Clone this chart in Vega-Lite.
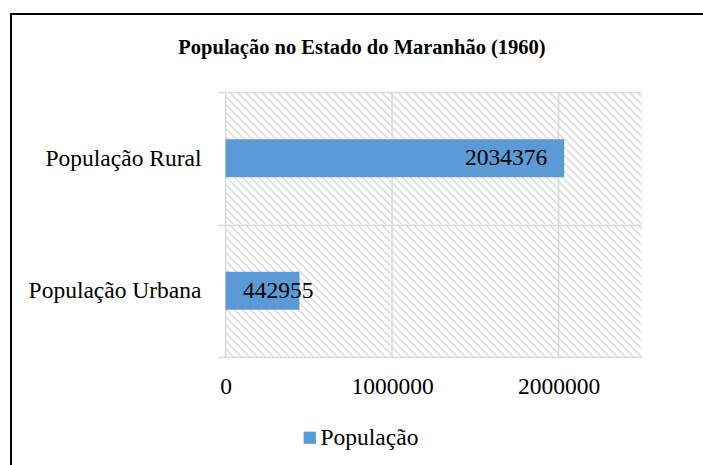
{
"$schema": "https://vega.github.io/schema/vega-lite/v6.json",
"width": 692,
"height": 451,
"autosize": {"type": "none"},
"padding": {"left": 11, "top": 14, "right": 0, "bottom": 0},
"background": "white",
"config": {
  "view": {"stroke": "#000000", "strokeWidth": 2, "strokeDash": [692, 1143, 451, 1000]},
  "font": "Liberation Serif"
},
"title": {"text": "População no Estado do Maranhão (1960)", "font": "Liberation Serif", "fontSize": 20.5, "fontWeight": "bold", "color": "#000000", "anchor": "middle", "frame": "group", "offset": -56, "dx": 5},
"data": {"values": [
  {"cat": "População Rural", "value": 2034376},
  {"cat": "População Urbana", "value": 442955}
]},
"encoding": {
  "y": {"field": "cat", "type": "nominal",
    "scale": {"domain": ["População Rural", "População Urbana"], "range": [78, 343], "paddingInner": 0, "paddingOuter": 0},
    "axis": {"title": null, "orient": "left", "offset": -214.7, "domain": false, "ticks": true, "tickSize": 8, "tickColor": "#d9d9d9", "tickWidth": 1.5, "tickBand": "extent", "grid": true, "gridColor": "#d9d9d9", "gridWidth": 1.5, "zindex": 1, "labelFont": "Liberation Serif", "labelFontSize": 23.5, "labelColor": "#000000", "labelPadding": 16.7, "labelLimit": 300}
  }
},
"layer": [
  {
    "mark": {"type": "rect", "fill": {"gradient": "linear", "x1": 0, "y1": 1, "x2": 1.3966, "y2": 0.5552, "stops": [
{"offset":0,"color":"#d6d6d6"},{"offset":0.003,"color":"#fff"},{"offset":0.0095,"color":"#fff"},
{"offset":0.0125,"color":"#d6d6d6"},{"offset":0.0155,"color":"#fff"},{"offset":0.022,"color":"#fff"},
{"offset":0.025,"color":"#d6d6d6"},{"offset":0.028,"color":"#fff"},{"offset":0.0345,"color":"#fff"},
{"offset":0.0375,"color":"#d6d6d6"},{"offset":0.0405,"color":"#fff"},{"offset":0.047,"color":"#fff"},
{"offset":0.05,"color":"#d6d6d6"},{"offset":0.053,"color":"#fff"},{"offset":0.0595,"color":"#fff"},
{"offset":0.0625,"color":"#d6d6d6"},{"offset":0.0655,"color":"#fff"},{"offset":0.072,"color":"#fff"},
{"offset":0.075,"color":"#d6d6d6"},{"offset":0.078,"color":"#fff"},{"offset":0.0845,"color":"#fff"},
{"offset":0.0875,"color":"#d6d6d6"},{"offset":0.0905,"color":"#fff"},{"offset":0.097,"color":"#fff"},
{"offset":0.1,"color":"#d6d6d6"},{"offset":0.103,"color":"#fff"},{"offset":0.1095,"color":"#fff"},
{"offset":0.1125,"color":"#d6d6d6"},{"offset":0.1155,"color":"#fff"},{"offset":0.122,"color":"#fff"},
{"offset":0.125,"color":"#d6d6d6"},{"offset":0.128,"color":"#fff"},{"offset":0.1345,"color":"#fff"},
{"offset":0.1375,"color":"#d6d6d6"},{"offset":0.1405,"color":"#fff"},{"offset":0.147,"color":"#fff"},
{"offset":0.15,"color":"#d6d6d6"},{"offset":0.153,"color":"#fff"},{"offset":0.1595,"color":"#fff"},
{"offset":0.1625,"color":"#d6d6d6"},{"offset":0.1655,"color":"#fff"},{"offset":0.172,"color":"#fff"},
{"offset":0.175,"color":"#d6d6d6"},{"offset":0.178,"color":"#fff"},{"offset":0.1845,"color":"#fff"},
{"offset":0.1875,"color":"#d6d6d6"},{"offset":0.1905,"color":"#fff"},{"offset":0.197,"color":"#fff"},
{"offset":0.2,"color":"#d6d6d6"},{"offset":0.203,"color":"#fff"},{"offset":0.2095,"color":"#fff"},
{"offset":0.2125,"color":"#d6d6d6"},{"offset":0.2155,"color":"#fff"},{"offset":0.222,"color":"#fff"},
{"offset":0.225,"color":"#d6d6d6"},{"offset":0.228,"color":"#fff"},{"offset":0.2345,"color":"#fff"},
{"offset":0.2375,"color":"#d6d6d6"},{"offset":0.2405,"color":"#fff"},{"offset":0.247,"color":"#fff"},
{"offset":0.25,"color":"#d6d6d6"},{"offset":0.253,"color":"#fff"},{"offset":0.2595,"color":"#fff"},
{"offset":0.2625,"color":"#d6d6d6"},{"offset":0.2655,"color":"#fff"},{"offset":0.272,"color":"#fff"},
{"offset":0.275,"color":"#d6d6d6"},{"offset":0.278,"color":"#fff"},{"offset":0.2845,"color":"#fff"},
{"offset":0.2875,"color":"#d6d6d6"},{"offset":0.2905,"color":"#fff"},{"offset":0.297,"color":"#fff"},
{"offset":0.3,"color":"#d6d6d6"},{"offset":0.303,"color":"#fff"},{"offset":0.3095,"color":"#fff"},
{"offset":0.3125,"color":"#d6d6d6"},{"offset":0.3155,"color":"#fff"},{"offset":0.322,"color":"#fff"},
{"offset":0.325,"color":"#d6d6d6"},{"offset":0.328,"color":"#fff"},{"offset":0.3345,"color":"#fff"},
{"offset":0.3375,"color":"#d6d6d6"},{"offset":0.3405,"color":"#fff"},{"offset":0.347,"color":"#fff"},
{"offset":0.35,"color":"#d6d6d6"},{"offset":0.353,"color":"#fff"},{"offset":0.3595,"color":"#fff"},
{"offset":0.3625,"color":"#d6d6d6"},{"offset":0.3655,"color":"#fff"},{"offset":0.372,"color":"#fff"},
{"offset":0.375,"color":"#d6d6d6"},{"offset":0.378,"color":"#fff"},{"offset":0.3845,"color":"#fff"},
{"offset":0.3875,"color":"#d6d6d6"},{"offset":0.3905,"color":"#fff"},{"offset":0.397,"color":"#fff"},
{"offset":0.4,"color":"#d6d6d6"},{"offset":0.403,"color":"#fff"},{"offset":0.4095,"color":"#fff"},
{"offset":0.4125,"color":"#d6d6d6"},{"offset":0.4155,"color":"#fff"},{"offset":0.422,"color":"#fff"},
{"offset":0.425,"color":"#d6d6d6"},{"offset":0.428,"color":"#fff"},{"offset":0.4345,"color":"#fff"},
{"offset":0.4375,"color":"#d6d6d6"},{"offset":0.4405,"color":"#fff"},{"offset":0.447,"color":"#fff"},
{"offset":0.45,"color":"#d6d6d6"},{"offset":0.453,"color":"#fff"},{"offset":0.4595,"color":"#fff"},
{"offset":0.4625,"color":"#d6d6d6"},{"offset":0.4655,"color":"#fff"},{"offset":0.472,"color":"#fff"},
{"offset":0.475,"color":"#d6d6d6"},{"offset":0.478,"color":"#fff"},{"offset":0.4845,"color":"#fff"},
{"offset":0.4875,"color":"#d6d6d6"},{"offset":0.4905,"color":"#fff"},{"offset":0.497,"color":"#fff"},
{"offset":0.5,"color":"#d6d6d6"},{"offset":0.503,"color":"#fff"},{"offset":0.5095,"color":"#fff"},
{"offset":0.5125,"color":"#d6d6d6"},{"offset":0.5155,"color":"#fff"},{"offset":0.522,"color":"#fff"},
{"offset":0.525,"color":"#d6d6d6"},{"offset":0.528,"color":"#fff"},{"offset":0.5345,"color":"#fff"},
{"offset":0.5375,"color":"#d6d6d6"},{"offset":0.5405,"color":"#fff"},{"offset":0.547,"color":"#fff"},
{"offset":0.55,"color":"#d6d6d6"},{"offset":0.553,"color":"#fff"},{"offset":0.5595,"color":"#fff"},
{"offset":0.5625,"color":"#d6d6d6"},{"offset":0.5655,"color":"#fff"},{"offset":0.572,"color":"#fff"},
{"offset":0.575,"color":"#d6d6d6"},{"offset":0.578,"color":"#fff"},{"offset":0.5845,"color":"#fff"},
{"offset":0.5875,"color":"#d6d6d6"},{"offset":0.5905,"color":"#fff"},{"offset":0.597,"color":"#fff"},
{"offset":0.6,"color":"#d6d6d6"},{"offset":0.603,"color":"#fff"},{"offset":0.6095,"color":"#fff"},
{"offset":0.6125,"color":"#d6d6d6"},{"offset":0.6155,"color":"#fff"},{"offset":0.622,"color":"#fff"},
{"offset":0.625,"color":"#d6d6d6"},{"offset":0.628,"color":"#fff"},{"offset":0.6345,"color":"#fff"},
{"offset":0.6375,"color":"#d6d6d6"},{"offset":0.6405,"color":"#fff"},{"offset":0.647,"color":"#fff"},
{"offset":0.65,"color":"#d6d6d6"},{"offset":0.653,"color":"#fff"},{"offset":0.6595,"color":"#fff"},
{"offset":0.6625,"color":"#d6d6d6"},{"offset":0.6655,"color":"#fff"},{"offset":0.672,"color":"#fff"},
{"offset":0.675,"color":"#d6d6d6"},{"offset":0.678,"color":"#fff"},{"offset":0.6845,"color":"#fff"},
{"offset":0.6875,"color":"#d6d6d6"},{"offset":0.6905,"color":"#fff"},{"offset":0.697,"color":"#fff"},
{"offset":0.7,"color":"#d6d6d6"},{"offset":0.703,"color":"#fff"},{"offset":0.7095,"color":"#fff"},
{"offset":0.7125,"color":"#d6d6d6"},{"offset":0.7155,"color":"#fff"},{"offset":0.722,"color":"#fff"},
{"offset":0.725,"color":"#d6d6d6"},{"offset":0.728,"color":"#fff"},{"offset":0.7345,"color":"#fff"},
{"offset":0.7375,"color":"#d6d6d6"},{"offset":0.7405,"color":"#fff"},{"offset":0.747,"color":"#fff"},
{"offset":0.75,"color":"#d6d6d6"},{"offset":0.753,"color":"#fff"},{"offset":0.7595,"color":"#fff"},
{"offset":0.7625,"color":"#d6d6d6"},{"offset":0.7655,"color":"#fff"},{"offset":0.772,"color":"#fff"},
{"offset":0.775,"color":"#d6d6d6"},{"offset":0.778,"color":"#fff"},{"offset":0.7845,"color":"#fff"},
{"offset":0.7875,"color":"#d6d6d6"},{"offset":0.7905,"color":"#fff"},{"offset":0.797,"color":"#fff"},
{"offset":0.8,"color":"#d6d6d6"},{"offset":0.803,"color":"#fff"},{"offset":0.8095,"color":"#fff"},
{"offset":0.8125,"color":"#d6d6d6"},{"offset":0.8155,"color":"#fff"},{"offset":0.822,"color":"#fff"},
{"offset":0.825,"color":"#d6d6d6"},{"offset":0.828,"color":"#fff"},{"offset":0.8345,"color":"#fff"},
{"offset":0.8375,"color":"#d6d6d6"},{"offset":0.8405,"color":"#fff"},{"offset":0.847,"color":"#fff"},
{"offset":0.85,"color":"#d6d6d6"},{"offset":0.853,"color":"#fff"},{"offset":0.8595,"color":"#fff"},
{"offset":0.8625,"color":"#d6d6d6"},{"offset":0.8655,"color":"#fff"},{"offset":0.872,"color":"#fff"},
{"offset":0.875,"color":"#d6d6d6"},{"offset":0.878,"color":"#fff"},{"offset":0.8845,"color":"#fff"},
{"offset":0.8875,"color":"#d6d6d6"},{"offset":0.8905,"color":"#fff"},{"offset":0.897,"color":"#fff"},
{"offset":0.9,"color":"#d6d6d6"}
    ]}},
    "encoding": {
      "x": {"datum": 0, "type": "quantitative",
        "scale": {"domain": [0, 2500000], "range": [214.7, 630.7], "nice": false, "zero": true},
        "axis": {"title": null, "orient": "bottom", "offset": -108, "values": [0, 1000000, 2000000], "format": "d", "domain": false, "ticks": false, "grid": false, "labelFont": "Liberation Serif", "labelFontSize": 23.5, "labelColor": "#000000", "labelPadding": 17, "labelFlush": false}
      },
      "x2": {"datum": 2500000}
    }
  },
  {
    "mark": {"type": "rect", "fillOpacity": 0, "stroke": "#d9d9d9", "strokeWidth": 1.5},
    "encoding": {"x": {"datum": 0, "type": "quantitative"}, "x2": {"datum": 0}}
  },
  {
    "mark": {"type": "rect", "fillOpacity": 0, "stroke": "#d9d9d9", "strokeWidth": 1.5},
    "encoding": {"x": {"datum": 1000000, "type": "quantitative"}, "x2": {"datum": 1000000}}
  },
  {
    "mark": {"type": "rect", "fillOpacity": 0, "stroke": "#d9d9d9", "strokeWidth": 1.5},
    "encoding": {"x": {"datum": 2000000, "type": "quantitative"}, "x2": {"datum": 2000000}}
  },
  {
    "mark": {"type": "bar", "size": 38},
    "encoding": {
      "x": {"field": "value", "type": "quantitative"},
      "color": {"datum": "População", "type": "nominal",
        "scale": {"range": ["#5b9bd5"]},
        "legend": {"title": null, "orient": "none", "legendX": 287, "legendY": 412, "symbolType": "square", "symbolSize": 150, "symbolStrokeWidth": 0, "labelFont": "Liberation Serif", "labelFontSize": 23.5, "labelColor": "#000000", "labelOffset": -1, "padding": 0, "labelLimit": 300}
      }
    }
  },
  {
    "transform": [{"filter": "datum.cat === 'População Rural'"}],
    "mark": {"type": "text", "align": "right", "baseline": "middle", "dx": -17, "font": "Liberation Serif", "fontSize": 23.5, "color": "#000000"},
    "encoding": {
      "x": {"field": "value", "type": "quantitative"},
      "text": {"field": "value", "type": "quantitative", "format": "d"}
    }
  },
  {
    "transform": [{"filter": "datum.cat === 'População Urbana'"}],
    "mark": {"type": "text", "align": "right", "baseline": "middle", "dx": 14, "font": "Liberation Serif", "fontSize": 23.5, "color": "#000000"},
    "encoding": {
      "x": {"field": "value", "type": "quantitative"},
      "text": {"field": "value", "type": "quantitative", "format": "d"}
    }
  }
]
}
